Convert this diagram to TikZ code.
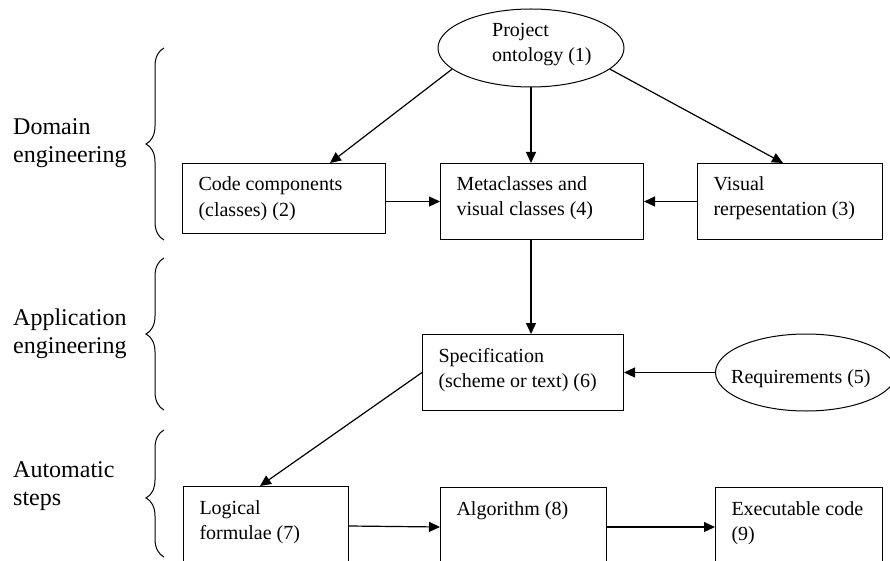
\documentclass[tikz,border=0pt]{standalone}
\usepackage{fontspec}
\setmainfont{Liberation Serif}
\usetikzlibrary{arrows.meta,shapes.geometric,decorations.pathreplacing,calc}
\newcommand{\boxtxt}[3]{\parbox[c][#2][t]{#1}{\vspace*{10pt}\leftskip=16pt\strut #3}}
\begin{document}
\begin{tikzpicture}[x=1pt,y=-1pt,
  box/.style={draw, line width=1pt, rectangle, inner sep=0pt, anchor=north west, font=\fontsize{20}{25}\selectfont},
  oval/.style={draw, line width=1pt, ellipse, inner sep=0pt},
  lbl/.style={inner sep=0pt, anchor=base west, font=\fontsize{20}{24.5}\selectfont},
  side/.style={inner sep=0pt, anchor=base west, font=\fontsize{24}{28}\selectfont},
  arr/.style={line width=1.2pt, -{Triangle[length=11pt,width=10pt]}},
  brc/.style={decorate, decoration={brace, amplitude=18pt}, line width=1pt}
]
\useasboundingbox (0,0) rectangle (890,561);
\fill[white] (0,0) rectangle (890,561);
\clip (0,0) rectangle (890,561);

% side labels
\node[side] (ldom) at (13,135) {\parbox[t]{130pt}{Domain\\engineering}};
\node[side] (lapp) at (13,325) {\parbox[t]{130pt}{Application\\engineering}};
\node[side] (laut) at (13,477) {\parbox[t]{130pt}{Automatic\\steps}};

% braces
\coordinate (bt1) at (164,48);  \coordinate (bb1) at (164,240);
\coordinate (bt2) at (164,258); \coordinate (bb2) at (164,410);
\coordinate (bt3) at (164,430); \coordinate (bb3) at (164,557);
\draw[brc] (bb1) -- (bt1);
\draw[brc] (bb2) -- (bt2);
\draw[brc, decoration={brace, amplitude=18pt, aspect=0.465}] (bb3) -- (bt3);

% ellipses
\node[oval, minimum width=186pt, minimum height=78pt] (p1) at (531,48) {};
\node[lbl] (p1t) at (492,37) {\parbox[t]{110pt}{Project\\ontology (1)}};
\node[oval, minimum width=181pt, minimum height=77pt] (r5) at (806,372.5) {};
\node[lbl] (r5t) at (731,383) {Requirements (5)};

% boxes
\node[box] (b2) at (182,163) {\boxtxt{203pt}{70pt}{Code components\\(classes) (2)}};
\node[box] (b4) at (440,163) {\boxtxt{203pt}{76pt}{Metaclasses and\\visual classes (4)}};
\node[box] (b3) at (697,163) {\boxtxt{185pt}{76pt}{Visual\\rerpesentation (3)}};
\node[box] (b6) at (422,334) {\boxtxt{201pt}{76pt}{Specification\\(scheme or text) (6)}};
\node[box] (b7) at (183,486) {\boxtxt{165pt}{100pt}{Logical\\formulae (7)}};
\node[box] (b8) at (440,487) {\boxtxt{166pt}{100pt}{Algorithm (8)}};
\node[box] (b9) at (715,487) {\boxtxt{167pt}{100pt}{Executable code\\(9)}};

% connectors
\draw[arr] (p1.195) -- ($(b2.north west)+(148,0)$);
\draw[arr] (p1.south) -- (p1.south |- b4.north);
\draw[arr] (p1.345) -- ($(b3.north west)+(86,0)$);
\draw[arr] (b4.west -| b2.east) -- (b4.west);
\draw[arr] (b3.west) -- (b4.east);
\draw[arr] (b4.south -| p1.south) -- (b6.north -| p1.south);
\draw[arr] (r5.west) -- (b6.east);
\draw[arr] (b6.west) -- ($(b7.north west)+(77,0)$);
\draw[arr] ($(b7.north east)+(0,40)$) -- ($(b8.north west)+(0,40)$);
\draw[arr] ($(b8.north east)+(0,40)$) -- ($(b9.north west)+(0,40)$);
\end{tikzpicture}
\end{document}
